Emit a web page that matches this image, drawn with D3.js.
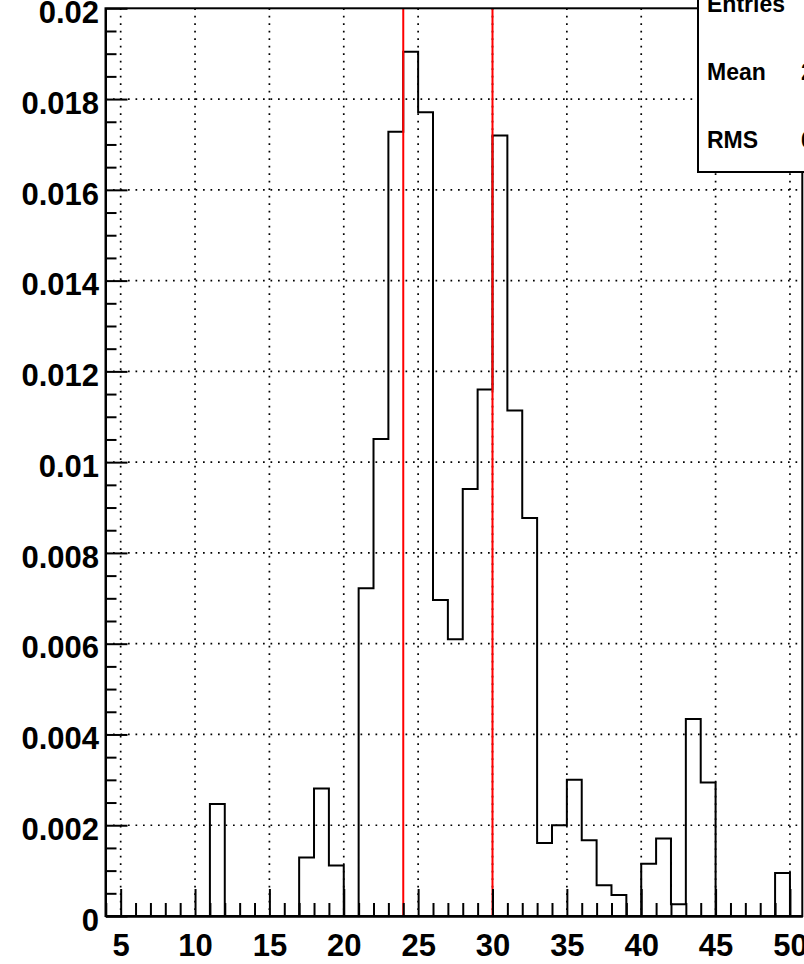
<!DOCTYPE html>
<html><head><meta charset="utf-8">
<script src="https://cdn.jsdelivr.net/npm/d3@7"></script>
<style>
html,body{margin:0;padding:0;background:#fff;}
svg{display:block;}
text{font-family:"Liberation Sans",Arial,Helvetica,sans-serif;font-weight:bold;fill:#000;}
</style></head>
<body>
<script>
// Histogram bins (lower edges), width 1
const binEdges = [4,5,6,7,8,9,10,11,12,13,14,15,16,17,18,19,20,21,22,23,24,25,26,27,28,29,30,31,32,33,34,35,36,37,38,39,40,41,42,43,44,45,46,47,48,49,50];
const binValues = [0,0,0,0,0,0,0,0.00247,0,0,0,0,0,0.00129,0.00281,0.00111,0,0.00722,0.01051,0.01728,0.01904,0.01771,0.00696,0.00610,0.00941,0.01160,0.01720,0.01114,0.00877,0.00161,0.00200,0.00300,0.00167,0.00068,0.00046,0,0.00115,0.00171,0.00026,0.00434,0.00294,0,0,0,0,0.00095,0];
const binWidth = 1;
const xMajorTicks = [5,10,15,20,25,30,35,40,45,50];
const xMinorTicks = [4,6,7,8,9,11,12,13,14,16,17,18,19,21,22,23,24,26,27,28,29,31,32,33,34,36,37,38,39,41,42,43,44,46,47,48,49];
const xTickLabels = ["5","10","15","20","25","30","35","40","45","50"];
const yMajorTicks = [0,0.002,0.004,0.006,0.008,0.01,0.012,0.014,0.016,0.018,0.02];
const yTickLabels = ["0","0.002","0.004","0.006","0.008","0.01","0.012","0.014","0.016","0.018","0.02"];
const markerLines = [24,30];
const statsLabels = ["Entries","Mean","RMS"];
const statsValues = ["1000","27.46","6.531"];

const W=804,H=964;
const L=105.5,R=802.3,T=8.3,B=916;
const x=d3.scaleLinear().domain([3.98,50.83]).range([L,R]);
const y=d3.scaleLinear().domain([0,0.02]).range([B,T]);

const svg=d3.select("body").append("svg").attr("width",W).attr("height",H);
svg.append("rect").attr("width",W).attr("height",H).attr("fill","#fff");
svg.append("defs").append("clipPath").attr("id","fr").append("rect")
  .attr("x",L).attr("y",T).attr("width",R-L).attr("height",B-T);

// grid
const grid=svg.append("g").attr("stroke","#000").attr("stroke-width",1.7).attr("stroke-dasharray","1.7,5.8");
grid.selectAll(".gx").data(xMajorTicks).join("line")
  .attr("x1",d=>x(d)).attr("x2",d=>x(d)).attr("y1",T).attr("y2",B);
grid.selectAll(".gy").data(yMajorTicks.filter(d=>d>0&&d<0.02)).join("line")
  .attr("x1",L).attr("x2",R).attr("y1",d=>y(d)).attr("y2",d=>y(d));

// histogram step outline
let pts=[[binEdges[0],0]];
binEdges.forEach((e,i)=>{pts.push([e,binValues[i]]);pts.push([e+binWidth,binValues[i]]);});
pts.push([binEdges[binEdges.length-1]+binWidth,0]);
svg.append("path").attr("clip-path","url(#fr)")
  .attr("d",d3.line().x(d=>x(d[0])).y(d=>y(d[1]))(pts))
  .attr("fill","none").attr("stroke","#000").attr("stroke-width",2);

// red lines
svg.selectAll(".red").data(markerLines).join("line")
  .attr("x1",d=>x(d)).attr("x2",d=>x(d)).attr("y1",T).attr("y2",B)
  .attr("stroke","#ff0000").attr("stroke-width",2);

// axes
const xMinor=svg.append("g").attr("transform",`translate(0,${B})`)
  .call(d3.axisBottom(x).tickValues(xMinorTicks).tickSize(-13).tickSizeOuter(0).tickFormat(""));
const xMaj=svg.append("g").attr("transform",`translate(0,${B})`)
  .call(d3.axisBottom(x).tickValues(xMajorTicks).tickSize(-27).tickSizeOuter(0).tickPadding(18)
    .tickFormat((d,i)=>xTickLabels[i]));
const yMinorVals=d3.range(0,41).map(i=>i*0.0005).filter(d=>Math.round(d*10000)%20!==0);
const yMinor=svg.append("g").attr("transform",`translate(${L},0)`)
  .call(d3.axisLeft(y).tickValues(yMinorVals).tickSize(-11).tickSizeOuter(0).tickFormat(""));
const yMaj=svg.append("g").attr("transform",`translate(${L},0)`)
  .call(d3.axisLeft(y).tickValues(yMajorTicks).tickSize(-22).tickSizeOuter(0).tickPadding(6.5)
    .tickFormat((d,i)=>yTickLabels[i]));
[xMinor,xMaj,yMinor,yMaj].forEach(g=>{
  g.selectAll(".tick line").attr("stroke","#000").attr("stroke-width",2);
  g.select(".domain").attr("stroke","#000").attr("stroke-width",2);
});
xMaj.selectAll("text").attr("font-size",31).attr("font-family",null).attr("fill","#000");
yMaj.selectAll("text").attr("font-size",31).attr("font-family",null).attr("fill","#000").attr("dy","0.46em");

// frame
svg.append("rect").attr("x",L).attr("y",T).attr("width",R-L).attr("height",B-T)
  .attr("fill","none").attr("stroke","#000").attr("stroke-width",2);

// stats box
const sb=svg.append("g");
sb.append("rect").attr("x",698).attr("y",-60).attr("width",160).attr("height",232)
  .attr("fill","#fff").attr("stroke","#000").attr("stroke-width",2);
sb.selectAll(".sl").data(statsLabels).join("text")
  .attr("x",707).attr("y",(d,i)=>12+i*68).attr("font-size",23).text(d=>d);
sb.selectAll(".sv").data(statsValues).join("text")
  .attr("x",(d,i)=>i===0?825:801).attr("y",(d,i)=>12+i*68).attr("font-size",23).text(d=>d);
</script>
</body></html>
